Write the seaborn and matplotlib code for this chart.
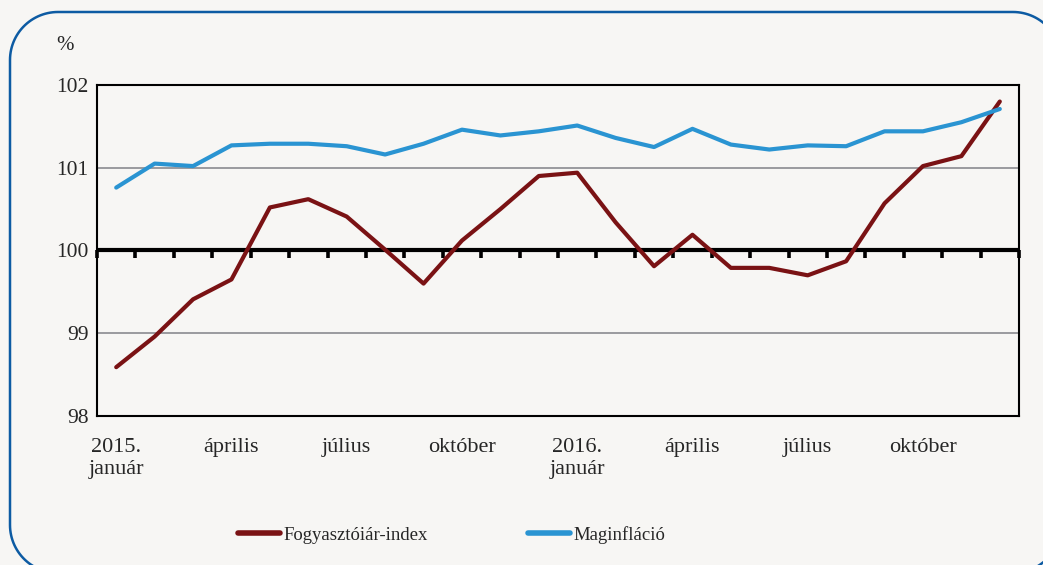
import numpy as np
import pandas as pd
import seaborn as sns
import matplotlib.pyplot as plt
from matplotlib.patches import Polygon
from matplotlib.transforms import IdentityTransform

# havi adatok, 2015. január - 2016. december
months = list(range(24))
cpi = [98.59, 98.96, 99.41, 99.65, 100.52, 100.62, 100.41, 100.01, 99.60, 100.12,
       100.50, 100.90, 100.94, 100.34, 99.81, 100.19, 99.79, 99.79, 99.70, 99.87,
       100.57, 101.02, 101.14, 101.80]
core = [100.76, 101.05, 101.02, 101.27, 101.29, 101.29, 101.26, 101.16, 101.29, 101.46,
        101.39, 101.44, 101.51, 101.36, 101.25, 101.47, 101.28, 101.22, 101.27, 101.26,
        101.44, 101.44, 101.55, 101.71]
series_names = ["Fogyasztóiár-index", "Maginfláció"]
tick_pos = [0, 3, 6, 9, 12, 15, 18, 21]
tick_labels = ["2015.\njanuár", "április", "július", "október",
               "2016.\njanuár", "április", "július", "október"]

df = pd.DataFrame({
    "month": months * 2,
    "value": cpi + core,
    "series": [series_names[0]] * 24 + [series_names[1]] * 24,
})

bg = "#f7f6f4"
sns.set_style("white")
plt.rcParams["font.family"] = ["Liberation Serif", "DejaVu Serif"]

fig = plt.figure(figsize=(10.43, 5.65), dpi=100, facecolor=bg)
ax = fig.add_axes([0.093, 0.2637, 0.884, 0.5859])
ax.set_facecolor(bg)

colors = {series_names[0]: "#7a1214", series_names[1]: "#2a94d2"}
sns.lineplot(data=df, x="month", y="value", hue="series", palette=colors,
             linewidth=3.0, ax=ax, legend=False, zorder=5,
             solid_capstyle="round", solid_joinstyle="round")

ax.set_xlim(-0.5, 23.5)
ax.set_ylim(98, 102)
ax.set_yticks([98, 99, 100, 101, 102])
ax.set_yticklabels(["98", "99", "100", "101", "102"])
ax.tick_params(axis="y", direction="out", length=5, width=1.2, color="black",
               labelsize=15.5, pad=1)
for y in [99, 101]:
    ax.axhline(y, color="#8a8a90", linewidth=1.2, zorder=1)
ax.axhline(100, color="black", linewidth=3, zorder=3)

ax.set_xticks(tick_pos)
ax.set_xticklabels(tick_labels, fontsize=16, linespacing=1.2)
ax.tick_params(axis="x", length=0, pad=16)
ax.set_xlabel("")
ax.set_ylabel("")
for s in ax.spines.values():
    s.set_visible(True)
    s.set_color("black")
    s.set_linewidth(1.5)

# osztások a 100-as vonalon (lefelé)
sec = ax.secondary_xaxis(0.5)
sec.set_xticks(np.arange(-0.5, 24.0, 1.0))
sec.set_xticklabels([])
sec.tick_params(direction="in", length=6, width=2.6, color="black")
sec.spines["bottom"].set_visible(False)
sec.spines["top"].set_visible(False)

fig.text(0.062, 0.92, "%", fontsize=15, ha="center", va="center")

handles = [plt.Line2D([], [], color=colors[n], linewidth=4, solid_capstyle="round")
           for n in series_names]
fig.legend(handles, series_names, loc="center", bbox_to_anchor=(0.433, 0.053),
           ncol=2, frameon=False, fontsize=13.5, handlelength=2.25,
           handletextpad=0.2, columnspacing=5.3)

# lekerekített keret (pixelben, alul balról)
x0, x1, y0, y1, r = 10, 1061, -8, 553, 48
t = np.linspace(0, np.pi / 2, 30)
corners = [(x1 - r, y1 - r, 0), (x0 + r, y1 - r, np.pi / 2),
           (x0 + r, y0 + r, np.pi), (x1 - r, y0 + r, 1.5 * np.pi)]
pts = np.vstack([np.column_stack([cx + r * np.cos(t + a), cy + r * np.sin(t + a)])
                 for cx, cy, a in corners])
frame = Polygon(pts, closed=True, transform=IdentityTransform(), facecolor="none",
                edgecolor="#0d5ba3", linewidth=1.8)
fig.patches.append(frame)

fig.savefig("out.png", dpi=100, facecolor=bg)
